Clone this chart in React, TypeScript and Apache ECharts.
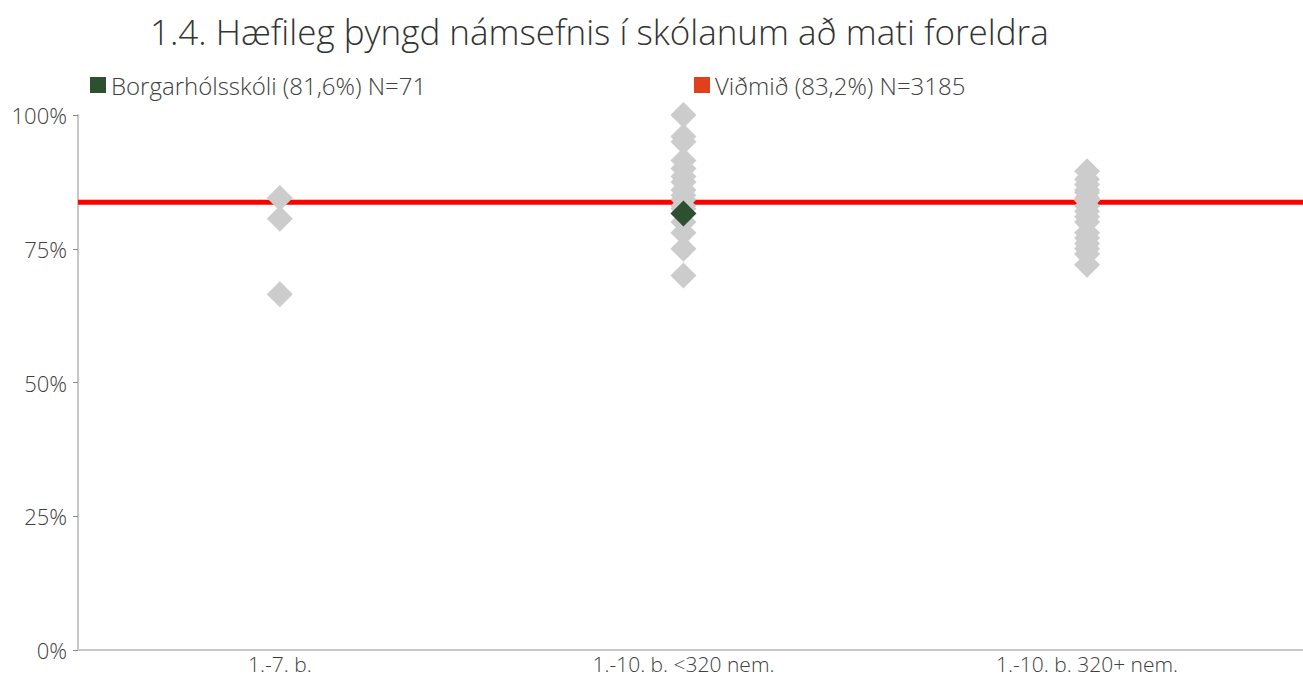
import React, { useEffect, useRef } from "react";
import * as echarts from "echarts";

const titleText = "1.4. Hæfileg þyngd námsefnis í skólanum að mati foreldra";
const categories = ["1.-7. b.", "1.-10. b. <320 nem.", "1.-10. b. 320+ nem."];
const schoolName = "Borgarhólsskóli (81,6%) N=71";
const benchName = "Viðmið (83,2%) N=3185";
const yTicks = [0, 25, 50, 75, 100];

// other schools, per category (percent)
const group1 = [84.5, 80.6, 66.5];
const group2 = [100, 96, 95, 91.5, 90, 88.5, 87.5, 86, 85, 84.2, 83, 82.5, 80, 78, 75, 70];
const group3 = [89.5, 88, 87, 86, 85.5, 84.5, 84, 83, 82, 81, 80, 78, 77, 76, 75, 74, 72];
// this school
const schoolCategory = 2;
const schoolValue = 81.6;
// benchmark line
const benchValue = 83.7;

export default function App() {
  const ref = useRef<HTMLDivElement>(null);
  useEffect(() => {
    if (!ref.current) return;
    const chart = echarts.init(ref.current, null, { renderer: "svg" });
    const others: number[][] = [];
    [group1, group2, group3].forEach((g, i) => g.forEach((v) => others.push([i + 1, v])));
    const xMin = 0.5;
    const xMax = 3.535;
    const font = "'Open Sans', sans-serif";
    chart.setOption({
      animation: false,
      backgroundColor: "#ffffff",
      title: {
        text: titleText,
        left: 145,
        top: 9,
        textStyle: { fontFamily: font, fontSize: 35, fontWeight: 300, color: "#333333" },
      },
      legend: [
        {
          left: 85,
          top: 68,
          icon: "rect",
          itemWidth: 16,
          itemHeight: 16,
          itemGap: 8,
          textStyle: { fontFamily: font, fontSize: 24, fontWeight: 300, color: "#404040" },
          data: [{ name: schoolName, itemStyle: { color: "#2d5030" } }],
        },
        {
          left: 689,
          top: 68,
          icon: "rect",
          itemWidth: 16,
          itemHeight: 16,
          textStyle: { fontFamily: font, fontSize: 24, fontWeight: 300, color: "#404040" },
          data: [{ name: benchName, itemStyle: { color: "#e0401a" } }],
        },
      ],
      grid: { left: 78, right: 0, top: 115, bottom: 28, containLabel: false },
      xAxis: {
        type: "value",
        min: xMin,
        max: xMax,
        axisLine: { show: true, lineStyle: { color: "#c8c8c8", width: 2 } },
        axisTick: { show: false },
        splitLine: { show: false },
        axisLabel: {
          customValues: [1, 2, 3],
          formatter: (v: number) => categories[Math.round(v) - 1] ?? "",
          fontFamily: font,
          fontSize: 21,
          fontWeight: 300,
          color: "#404040",
          margin: 3,
        },
      },
      yAxis: {
        type: "value",
        min: 0,
        max: 100,
        interval: 25,
        axisLine: { show: true, lineStyle: { color: "#c8c8c8", width: 2 } },
        axisTick: { show: true, length: 5, lineStyle: { color: "#888888" } },
        splitLine: { show: false },
        axisLabel: {
          formatter: (v: number) => (yTicks.includes(v) ? v + "%" : ""),
          fontFamily: font,
          fontSize: 22,
          fontWeight: 300,
          color: "#404040",
          margin: 11,
        },
      },
      series: [
        {
          name: benchName,
          type: "line",
          z: 1,
          symbol: "none",
          lineStyle: { color: "#ff0000", width: 5 },
          itemStyle: { color: "#e0401a" },
          data: [
            [xMin, benchValue],
            [xMax, benchValue],
          ],
        },
        {
          name: "others",
          type: "scatter",
          z: 2,
          symbol: "diamond",
          symbolSize: [26, 26],
          itemStyle: { color: "#cccccc", opacity: 1 },
          data: others,
        },
        {
          name: schoolName,
          type: "scatter",
          z: 3,
          symbol: "diamond",
          symbolSize: [26, 26],
          itemStyle: { color: "#2d5030", opacity: 1 },
          data: [[schoolCategory, schoolValue]],
        },
      ],
    });
    return () => chart.dispose();
  }, []);
  return (
    <div
      ref={ref}
      style={{ position: "fixed", left: 0, top: 0, width: 1303, height: 678 }}
    />
  );
}
